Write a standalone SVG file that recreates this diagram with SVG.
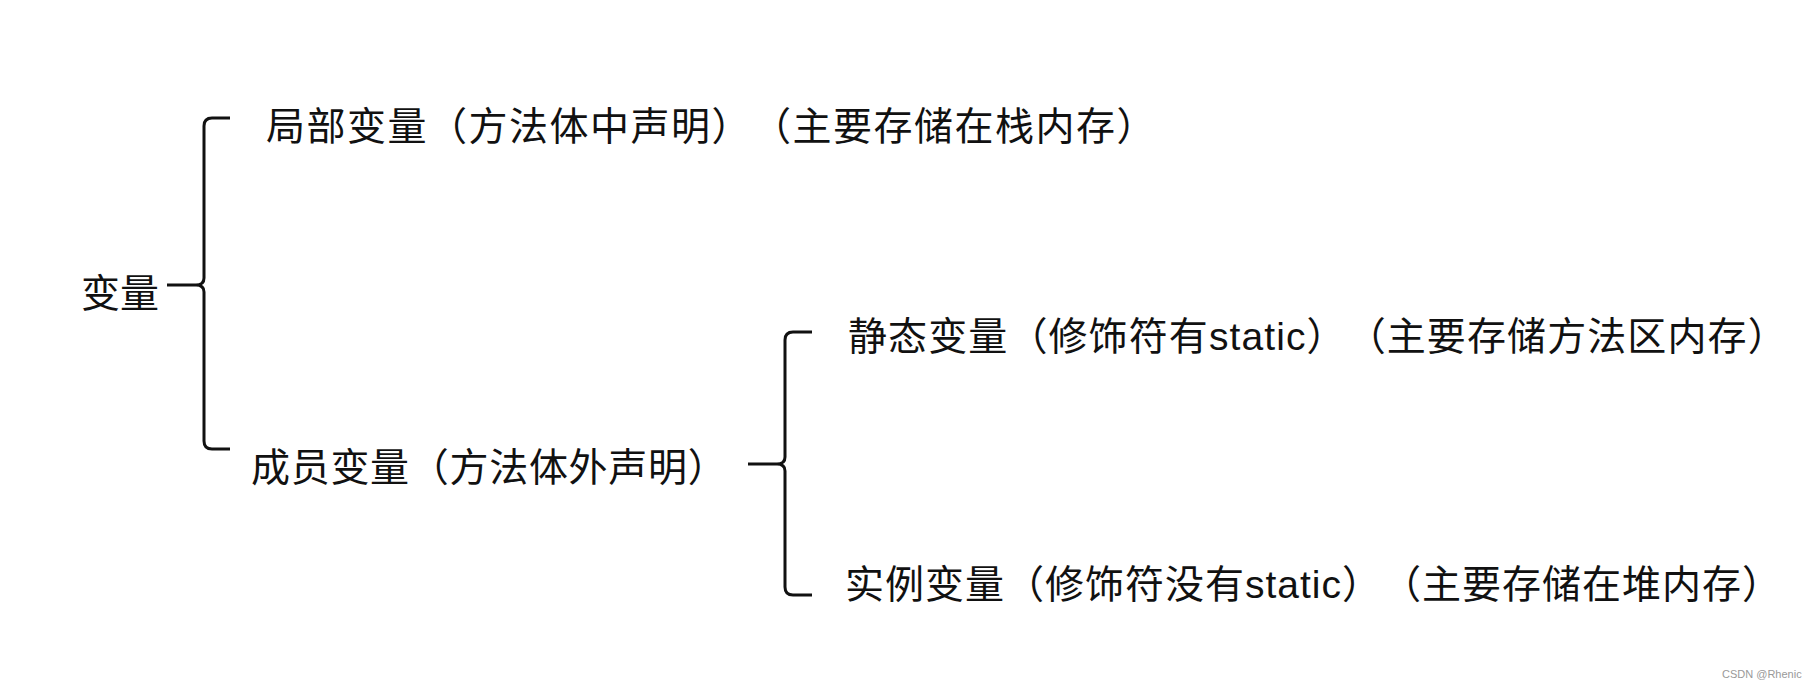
<svg xmlns="http://www.w3.org/2000/svg" width="1818" height="689" viewBox="0 0 1818 689">
<style>
  .t { font-family: "Liberation Sans", "Noto Sans CJK SC", sans-serif; font-size: 39px; fill: #111; text-spacing-trim: space-all; font-feature-settings: "chws" 0, "halt" 0, "palt" 0; }
  .br { fill: none; stroke: #111; stroke-width: 3; stroke-linecap: butt; stroke-linejoin: round; }
  .wm { font-family: "Liberation Sans", Arial, sans-serif; font-size: 11px; fill: #999; }
</style>
<rect width="1818" height="689" fill="#ffffff"/>
<g id="connectors">
  <path class="br" d="M230,118 L212,118 Q204,118 204,126 L204,278 Q204,285 196,285 L167,285 M196,285 Q204,285 204,292 L204,441 Q204,449 212,449 L230,449"/>
  <path class="br" d="M812,332 L793,332 Q785,332 785,340 L785,457 Q785,464 777,464 L748,464 M777,464 Q785,464 785,471 L785,587 Q785,595 793,595 L812,595"/>
</g>
<g id="node-root"><text class="t" x="81" y="307">变量</text></g>
<g id="node-local"><text class="t" x="266" y="140" letter-spacing="1.5">局部变量（方法体中声明）（主要存储在栈内存）</text></g>
<g id="node-member"><text class="t" x="251" y="481" letter-spacing="0.7">成员变量（方法体外声明）</text></g>
<g id="node-static"><text class="t" x="848" y="350" letter-spacing="1.1">静态变量（修饰符有static）（主要存储方法区内存）</text></g>
<g id="node-instance"><text class="t" x="845" y="598" letter-spacing="1">实例变量（修饰符没有static）（主要存储在堆内存）</text></g>
<text class="wm" x="1722" y="678">CSDN @Rhenic</text>
</svg>
